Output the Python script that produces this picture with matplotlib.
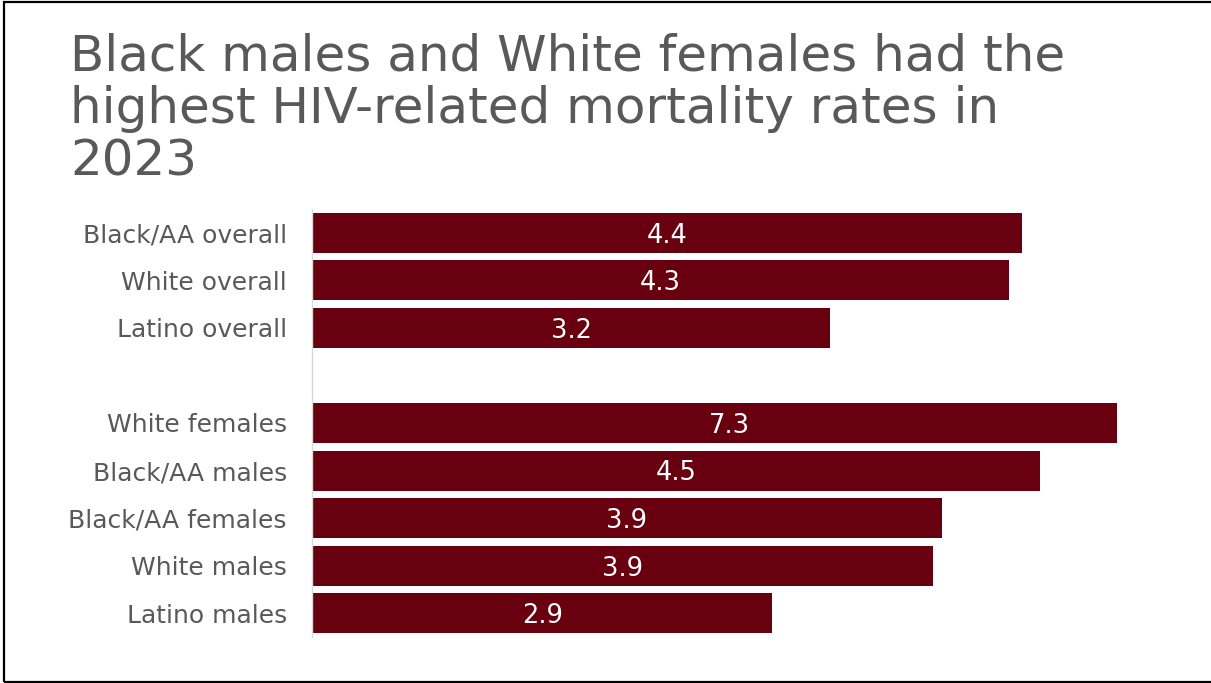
import matplotlib
matplotlib.use("Agg")
import matplotlib.pyplot as plt
from matplotlib.patches import Rectangle

categories = ["Black/AA overall", "White overall", "Latino overall",
              "White females", "Black/AA males", "Black/AA females",
              "White males", "Latino males"]
values = [4.41, 4.33, 3.22, 7.3, 4.52, 3.91, 3.86, 2.86]
positions = [0, 1, 2, 4, 5, 6, 7, 8]
title = "Black males and White females had the\nhighest HIV-related mortality rates in\n2023"

W, H = 1211, 683
XMAX = 5.0
LABEL_CAP = 5.18
BAR = "#68000F"
GREY = "#595959"

fig = plt.figure(figsize=(W / 100, H / 100), dpi=100)
ax = fig.add_axes([312 / W, 1 - 637 / H, (1117 - 312) / W, (637 - 209) / H])

ax.barh(positions, values, height=0.84, color=BAR)
ax.set_xlim(0, XMAX)
ax.set_ylim(8.5, -0.5)
for p, v in zip(positions, values):
    ax.text(min(v, LABEL_CAP) / 2, p + 0.06, f"{v:.1f}", color="white", fontsize=18.5,
            ha="center", va="center")

ax.set_yticks(positions)
ax.set_yticklabels(categories, fontsize=18, color=GREY)
ax.tick_params(axis="y", length=0, pad=18)
ax.set_xticks([])
for s in ["top", "right", "bottom"]:
    ax.spines[s].set_visible(False)
ax.spines["left"].set_color("#d9d9d9")
ax.spines["left"].set_linewidth(1)

fig.text(70 / W, 1 - 176 / H, title, fontsize=36, color=GREY, ha="left",
         va="baseline", linespacing=1.13)

fig.patches.append(Rectangle((3.5 / W, 1.5 / H), 1.2, 1 - 3.5 / H, transform=fig.transFigure,
                             fill=False, edgecolor="black", linewidth=1.6))

fig.savefig("out.png", dpi=100)
